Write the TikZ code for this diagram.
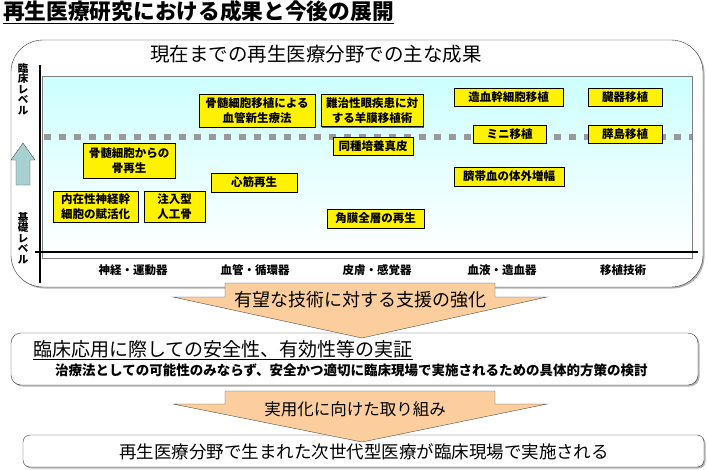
\documentclass[tikz,border=0pt]{standalone}
\usepackage{fontspec}
\setmainfont{Noto Sans CJK JP}
\usetikzlibrary{shadows}
\definecolor{chartcyan}{RGB}{204,255,255}
\definecolor{peach}{RGB}{252,206,158}
\definecolor{upteal}{RGB}{168,208,208}
\tikzstyle{seika}=[draw, fill=yellow, inner sep=0pt, align=center, font=\bfseries\fontsize{11.5}{15}\selectfont, drop shadow={shadow xshift=1pt, shadow yshift=-1pt, fill=black, opacity=0.6}]
\newcommand{\seika}{\node[seika]}
\tikzstyle{bunya}=[font=\bfseries\fontsize{11.5}{12}\selectfont]
\tikzstyle{levellabel}=[align=center, inner sep=0pt, font=\bfseries\fontsize{10.5}{10.5}\selectfont]
\tikzstyle{panel}=[draw=black!80, fill=white, drop shadow={shadow xshift=1.5pt, shadow yshift=-1.5pt, fill=gray, opacity=0.6}]
\tikzstyle{bigarrow}=[draw=black!70, fill=peach]

\begin{document}
\begin{tikzpicture}[x=1pt,y=-1pt]
\useasboundingbox (0,0) rectangle (707,469);
\node (title) at (3,12)[anchor=west, inner sep=0pt, font=\bfseries\fontsize{21.7}{22}\selectfont]{\underline{再生医療研究における成果と今後の展開}};
% upper panel
\draw[panel, rounded corners=32] (11,40) rectangle (703,287);
\node (midashi) at (316,54)[font=\fontsize{19.5}{20}\selectfont]{現在までの再生医療分野での主な成果};
\shade[top color=chartcyan, bottom color=white] (42,76) rectangle (692,258);
\draw[gray] (42,76) rectangle (692,258);
\draw[line width=6pt, gray!80, dash pattern=on 7pt off 8pt] (44,137) -- (692,137);
\draw[line width=2.5pt] (40,65) -- (40,283);
\draw[line width=2.5pt] (35,252) -- (698,252);
\node[levellabel] (rinsho) at (23,89){臨\\床\\レ\\ベ\\ル};
\node[levellabel] (kiso) at (23,238){基\\礎\\レ\\ベ\\ル};
\draw[draw=black!70, fill=upteal] (23,143) -- (35,160) -- (30,160) -- (30,185) -- (16,185) -- (16,160) -- (11,160) -- cycle;
% results
\seika (kekkan) at (257,110.5)[minimum width=116, minimum height=33]{骨髄細胞移植による\\血管新生療法};
\seika (yomaku) at (372,110.5)[minimum width=102, minimum height=32]{難治性眼疾患に対\\する羊膜移植術};
\seika (zoketsu) at (508.5,97)[minimum width=109, minimum height=18]{造血幹細胞移植};
\seika (zoki) at (625,97)[minimum width=74, minimum height=18]{臓器移植};
\seika (mini) at (509.5,134)[minimum width=73, minimum height=18]{ミニ移植};
\seika (suito) at (625,134)[minimum width=74, minimum height=18]{膵島移植};
\seika (shinpi) at (373,146)[minimum width=80, minimum height=18]{同種培養真皮};
\seika (saitai) at (509,176.5)[minimum width=110, minimum height=19]{臍帯血の体外増幅};
\seika (kakumaku) at (375.5,218.5)[minimum width=97, minimum height=19]{角膜全層の再生};
\seika (kotsu) at (129,160.5)[minimum width=92, minimum height=35]{骨髄細胞からの\\骨再生};
\seika (shinkin) at (254,182.5)[minimum width=86, minimum height=19]{心筋再生};
\seika (shinkei) at (95.5,206.5)[minimum width=85, minimum height=31]{内在性神経幹\\細胞の賦活化};
\seika (jinko) at (174.5,206.5)[minimum width=61, minimum height=31]{注入型\\人工骨};
% fields
\node[bunya] (shinkeiundo) at (133,270){神経・運動器};
\node[bunya] (junkan) at (255,270){血管・循環器};
\node[bunya] (hifu) at (377,270){皮膚・感覚器};
\node[bunya] (ketsueki) at (502,270){血液・造血器};
\node[bunya] (ishoku) at (623,270){移植技術};
% middle panel
\draw[panel, rounded corners=10] (11,333) rectangle (698,385);
\draw[bigarrow] (225,283) -- (495,283) -- (495,297) -- (547,297) -- (362,338) -- (173,297) -- (225,297) -- cycle;
\node (shien) at (360,300)[font=\fontsize{18}{18}\selectfont]{有望な技術に対する支援の強化};
\node (jissho) at (33,350)[anchor=west, inner sep=0pt, font=\fontsize{19}{19}\selectfont]{\underline{臨床応用に際しての安全性、有効性等の実証}};
\node (kento) at (55,370)[anchor=west, inner sep=0pt, font=\bfseries\fontsize{13.5}{14}\selectfont]{治療法としての可能性のみならず、安全かつ適切に臨床現場で実施されるための具体的方策の検討};
% lower panel
\draw[panel, rounded corners=7] (23,435) rectangle (704,467);
\draw[bigarrow] (225,391) -- (495,391) -- (495,404) -- (547,404) -- (362,442) -- (173,404) -- (225,404) -- cycle;
\node (jitsuyo) at (355,409)[font=\fontsize{16.5}{17}\selectfont]{実用化に向けた取り組み};
\node (jisshi) at (364,452)[font=\fontsize{17.5}{18}\selectfont]{再生医療分野で生まれた次世代型医療が臨床現場で実施される};
\end{tikzpicture}
\end{document}
